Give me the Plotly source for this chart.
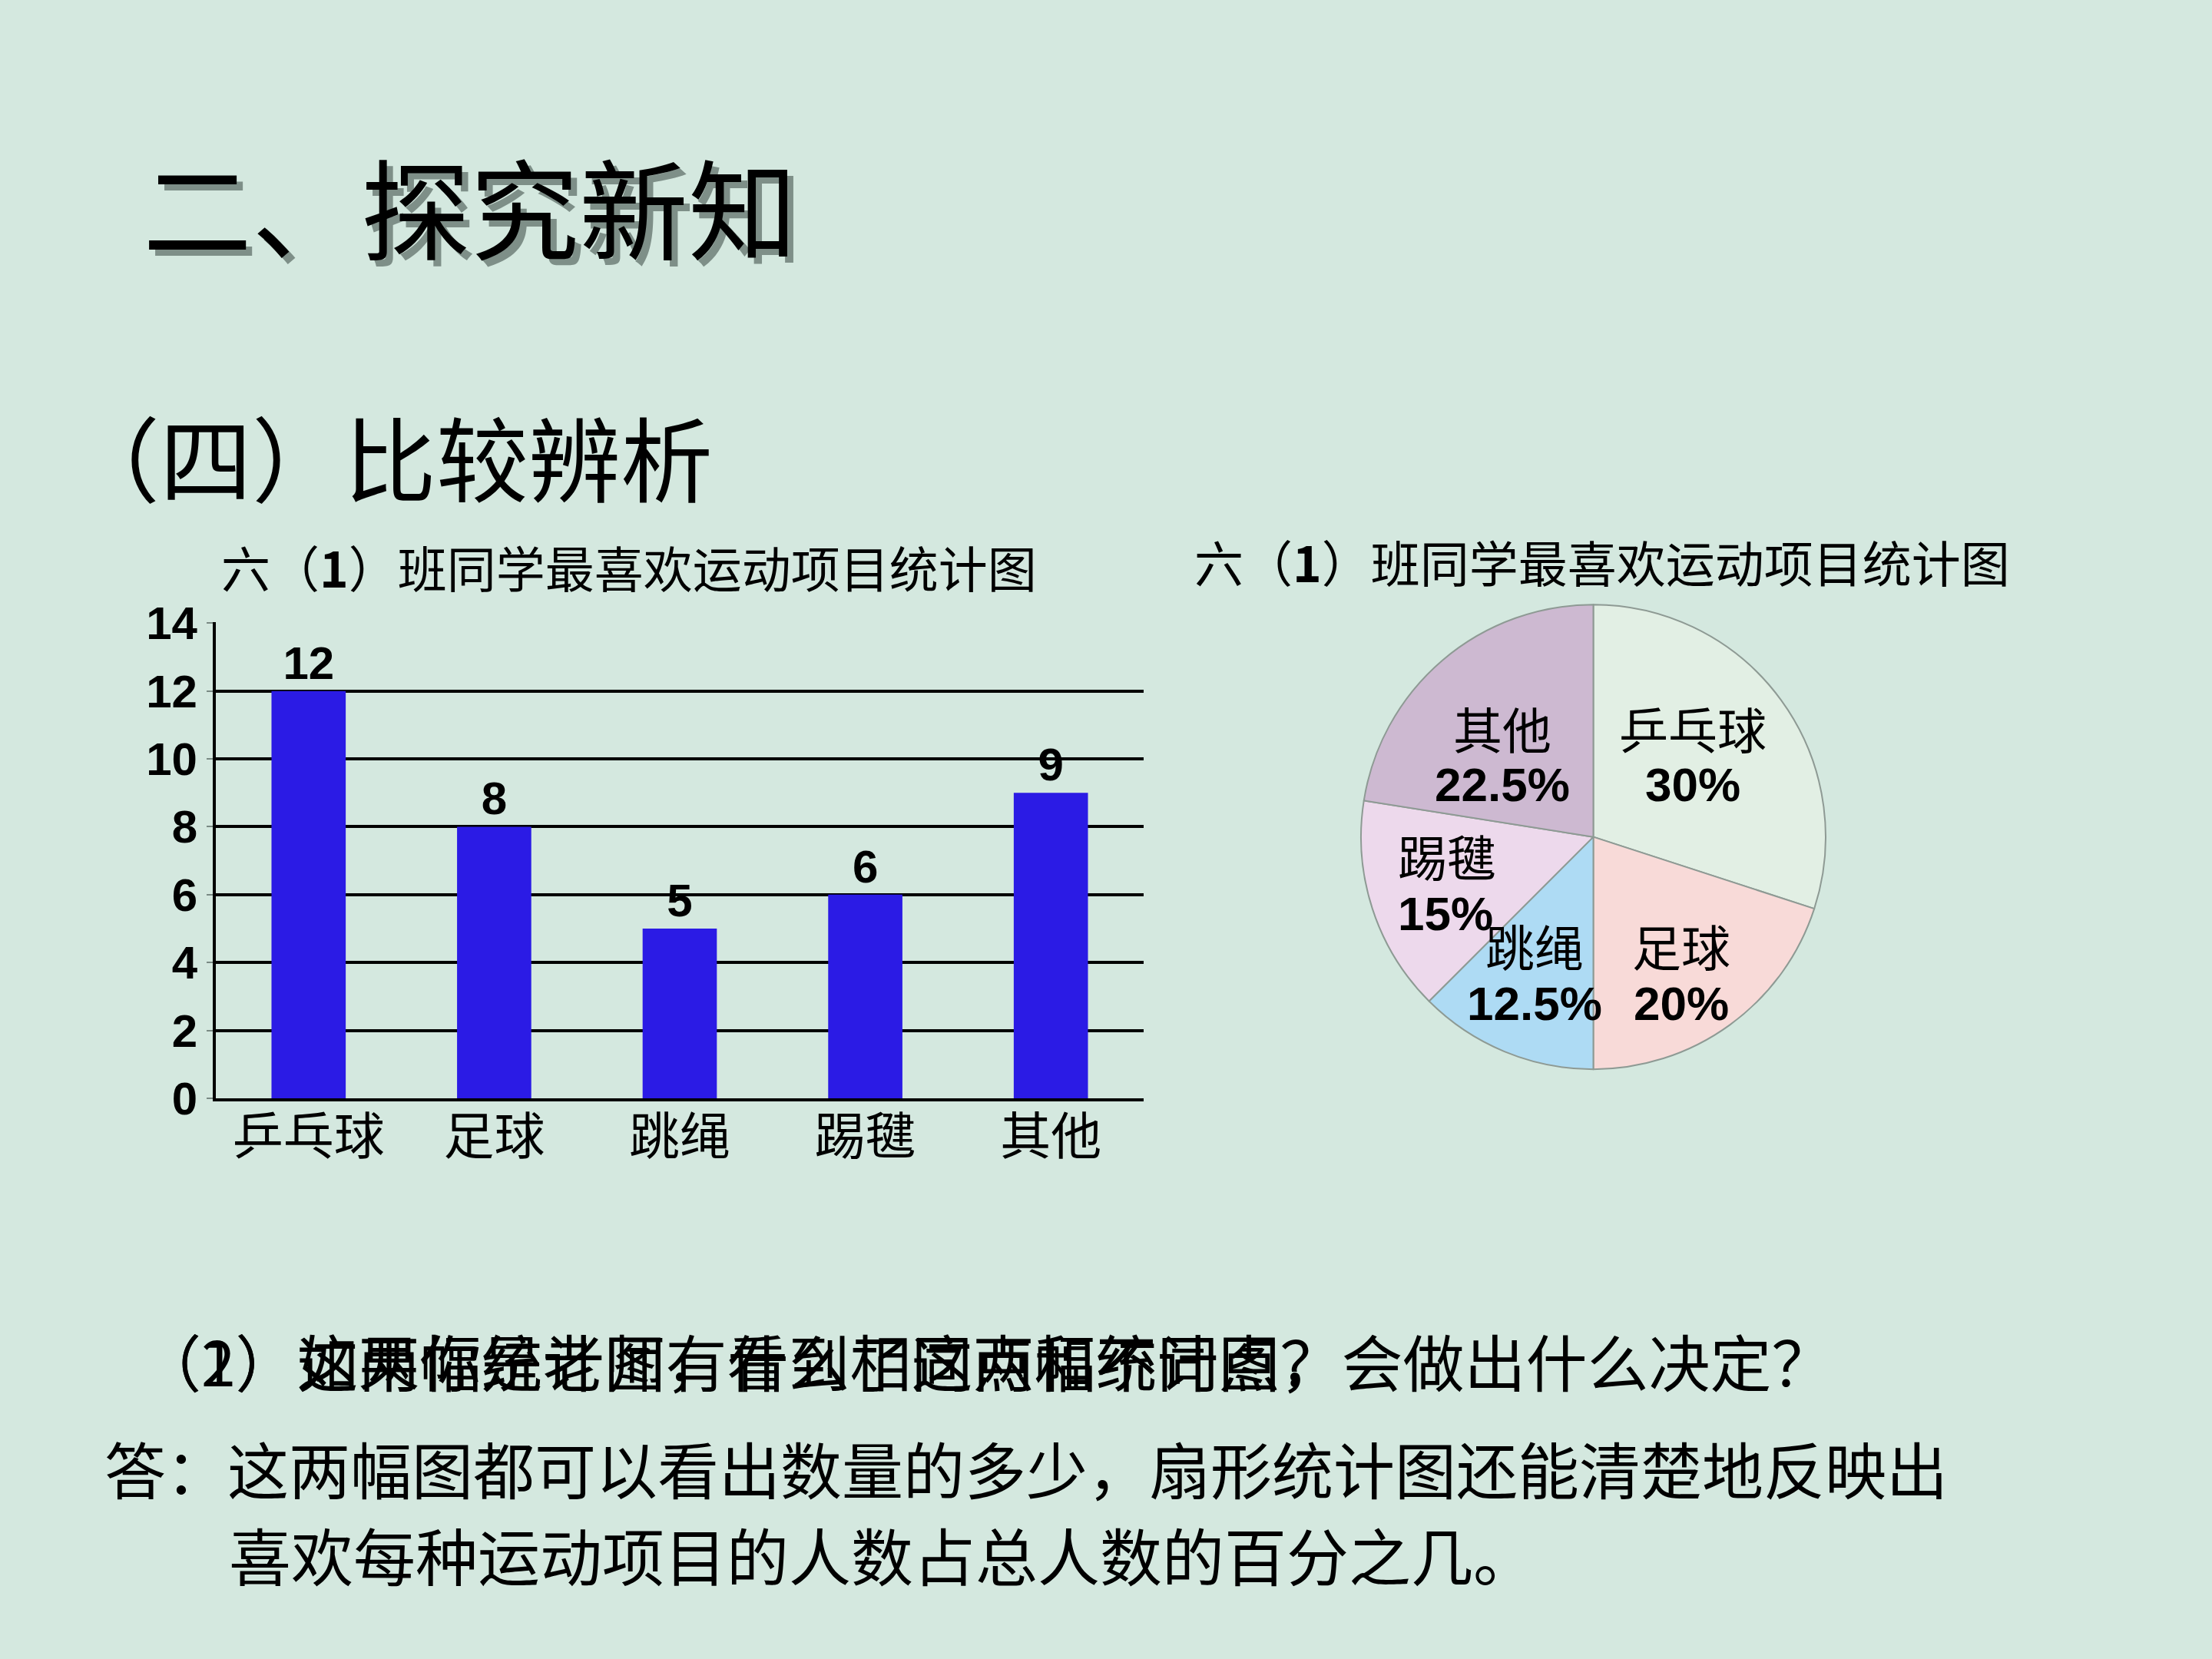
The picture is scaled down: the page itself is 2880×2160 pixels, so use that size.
import plotly.graph_objects as go

# ---------------- data ----------------
categories = ["乒乓球", "足球", "跳绳", "踢毽", "其他"]
counts = [12, 8, 5, 6, 9]
y_ticks = [0, 2, 4, 6, 8, 10, 12, 14]
pie_order = ["乒乓球", "足球", "跳绳", "踢毽", "其他"]
pie_colors = ["#E2EFE4", "#F8DAD8", "#AEDBF4", "#EDD9EC", "#CDB9D1"]

chart_title = "六（<b>1</b>）班同学最喜欢运动项目统计图"
slide_title = "二、探究新知"
section_title = "（四）比较辨析"
question_a = "（1）这两幅统计图有什么相同点和不同点？"
question_b = "（2）如果你是老师，看到了这两幅统计图，会做出什么决定？"
answer_1 = "答：这两幅图都可以看出数量的多少，扇形统计图还能清楚地反映出"
answer_2 = "喜欢每种运动项目的人数占总人数的百分之几。"

W, H = 2880, 2160
BG = "#D4E8DF"
CJK = "Noto Sans CJK SC"
LAT = "Liberation Sans"


def px(x, y):
    return x / W, 1 - y / H


fig = go.Figure()

# ---------------- bar chart ----------------
fig.add_trace(go.Bar(
    x=categories, y=counts,
    marker=dict(color="#2B1BE5", line=dict(width=0)),
    width=0.4,
    text=[str(v) for v in counts],
    textposition="outside",
    textfont=dict(family=LAT, size=60, color="black", weight="bold"),
    cliponaxis=False,
    xaxis="x", yaxis="y",
    showlegend=False,
))

# ---------------- pie chart ----------------
total = sum(counts)
pie_vals = [counts[categories.index(c)] for c in pie_order]
fig.add_trace(go.Pie(
    labels=pie_order, values=pie_vals,
    sort=False, direction="clockwise", rotation=0,
    marker=dict(colors=pie_colors, line=dict(color="#8E9A94", width=2)),
    textinfo="none", hoverinfo="label+percent",
    domain=dict(x=[1760 / W, 2389 / W], y=[1 - 1403 / H, 1 - 779 / H]),
    showlegend=False,
))

fig.update_layout(
    width=W, height=H,
    margin=dict(l=0, r=0, t=0, b=0),
    paper_bgcolor=BG, plot_bgcolor=BG,
    xaxis=dict(
        domain=[281 / W, 1489 / W],
        showline=True, linecolor="black", linewidth=4,
        ticks="", showgrid=False,
        ticklabelstandoff=-10,
        tickfont=dict(family=CJK, size=66, color="black"),
        fixedrange=True,
    ),
    yaxis=dict(
        domain=[1 - 1442 / H, 1 - 803 / H],
        range=[0, 14.02],
        tickvals=y_ticks,
        showline=True, linecolor="black", linewidth=4,
        ticks="outside", ticklen=8, tickwidth=2, tickcolor="#7A8A84",
        showgrid=True, gridcolor="black", gridwidth=4,
        zeroline=False,
        tickfont=dict(family=LAT, size=60, color="black", weight="bold"),
        fixedrange=True,
    ),
)

ann = []

# slide title with shadow
tx, ty = px(184, 241)
sx, sy = px(192, 250)
ann.append(dict(text=slide_title, x=sx, y=sy, xref="paper", yref="paper",
                xanchor="left", yanchor="middle", showarrow=False,
                font=dict(family=CJK, size=142, color="#7E8F88")))
ann.append(dict(text=slide_title, x=tx, y=ty, xref="paper", yref="paper",
                xanchor="left", yanchor="middle", showarrow=False,
                font=dict(family=CJK, size=142, color="black")))

# section title
x0, y0 = px(86, 579)
ann.append(dict(text=section_title, x=x0, y=y0, xref="paper", yref="paper",
                xanchor="left", yanchor="middle", showarrow=False,
                font=dict(family=CJK, size=120, color="black")))

# chart titles
for (lx, ly) in [(286, 727), (1553, 720)]:
    x0, y0 = px(lx, ly)
    ann.append(dict(text=chart_title, x=x0, y=y0, xref="paper", yref="paper",
                    xanchor="left", yanchor="middle", showarrow=False,
                    font=dict(family=CJK, size=64, color="black")))

# pie labels
pie_label_pos = {
    "其他": (1956, 944, 1021, "center"),
    "乒乓球": (2204, 944, 1021, "center"),
    "踢毽": (1818, 1115, 1194, "left"),
    "跳绳": (1998, 1236, 1315, "center"),
    "足球": (2189, 1236, 1315, "center"),
}
for name, v in zip(pie_order, pie_vals):
    lx, ny, py, anchor = pie_label_pos[name]
    pct = v / total * 100
    pct_txt = (f"{pct:.1f}" if pct % 1 else f"{pct:.0f}") + "%"
    x0, y0 = px(lx, ny)
    ann.append(dict(text=name, x=x0, y=y0, xref="paper", yref="paper",
                    xanchor=anchor, yanchor="middle", showarrow=False,
                    font=dict(family=CJK, size=64, color="black")))
    x0, y0 = px(lx, py)
    ann.append(dict(text=pct_txt, x=x0, y=y0, xref="paper", yref="paper",
                    xanchor=anchor, yanchor="middle", showarrow=False,
                    font=dict(family=LAT, size=62, color="black", weight="bold")))

# overlapping question lines (as in the original slide)
for q in (question_a, question_b):
    x0, y0 = px(180, 1793)
    ann.append(dict(text=q, x=x0, y=y0, xref="paper", yref="paper",
                    xanchor="left", yanchor="middle", showarrow=False,
                    font=dict(family=CJK, size=80, color="black")))

x0, y0 = px(134, 1937)
ann.append(dict(text=answer_1, x=x0, y=y0, xref="paper", yref="paper",
                xanchor="left", yanchor="middle", showarrow=False,
                font=dict(family=CJK, size=80, color="black")))
x0, y0 = px(296, 2053)
ann.append(dict(text=answer_2, x=x0, y=y0, xref="paper", yref="paper",
                xanchor="left", yanchor="middle", showarrow=False,
                font=dict(family=CJK, size=81, color="black")))

fig.update_layout(annotations=ann)

fig.write_html("out.html")
